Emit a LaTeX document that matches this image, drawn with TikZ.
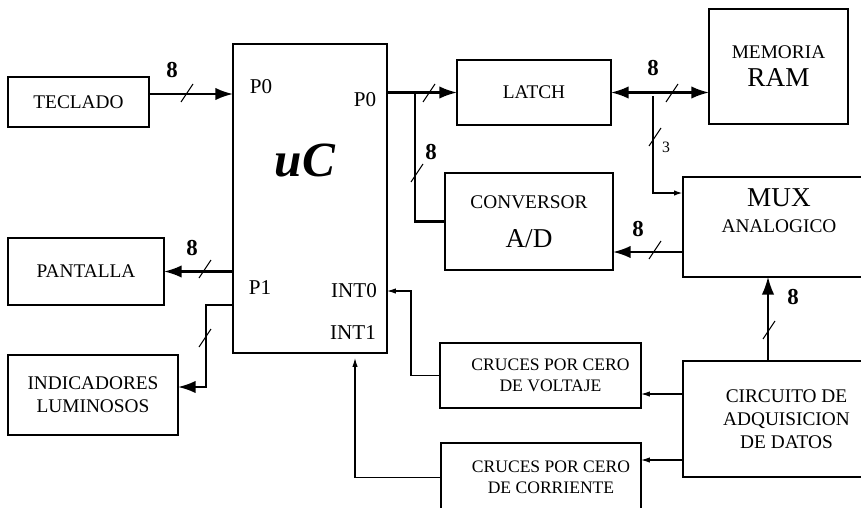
\documentclass[tikz,border=0pt]{standalone}
\usepackage{fontspec}
\setmainfont{Liberation Serif}
\usetikzlibrary{positioning,arrows.meta,calc}

% short slash across a bus line
\newcommand{\busmark}[1]{\draw[busslash] ($(#1)+(-6,9)$) -- ($(#1)+(6,-9)$);}

\begin{document}
\begin{tikzpicture}[>=Latex, x=0.02cm, y=-0.02cm,
  blk/.style={draw, line width=0.8pt, inner sep=0pt, outer sep=0pt, align=center,
              font=\fontsize{11}{13}\selectfont},
  bus/.style={line width=1.2pt},
  sig/.style={line width=0.6pt},
  bigarr/.style={-{Latex[length=10pt,width=7pt]}},
  smallarr/.style={-{Latex[length=5pt,width=3pt]}},
  num/.style={font=\bfseries\fontsize{13}{15}\selectfont},
  port/.style={font=\fontsize{12}{14}\selectfont},
  busslash/.style={line width=0.6pt}]
  \useasboundingbox (0,0) rectangle (861,507);

  % blocks
  \node (teclado) [blk, minimum width=2.82cm, minimum height=1.00cm] at (78.5,102) {TECLADO};
  \node (uc) [blk, minimum width=3.08cm, minimum height=6.18cm] at (310,198.5) {};
  \node (latch) [blk, minimum width=3.08cm, minimum height=1.30cm] at (534,92.5) {LATCH};
  \node (ram) [blk, minimum width=2.78cm, minimum height=2.30cm] at (778.5,66.5)
    {MEMORIA\\[3pt]{\fontsize{15.5}{17}\selectfont RAM}};
  \node (conv) [blk, minimum width=3.36cm, minimum height=1.94cm] at (529,221.5)
    {CONVERSOR\\[9pt]{\fontsize{15.5}{17}\selectfont A/D}};
  \node (mux) [blk, minimum width=3.84cm, minimum height=2.00cm] at (779,227)
    {{\fontsize{15.5}{17}\selectfont MUX}\\[2pt]ANALOGICO\\[6pt]};
  \node (pantalla) [blk, minimum width=3.12cm, minimum height=1.34cm] at (86,271.5) {PANTALLA};
  \node (ind) [blk, minimum width=3.40cm, minimum height=1.60cm] at (93,395)
    {INDICADORES\\LUMINOSOS};
  \node (volt) [blk, minimum width=4.02cm, minimum height=1.30cm,
                font=\fontsize{10}{12}\selectfont] at (540.5,375.5)
    {\hspace{0.4cm}CRUCES POR CERO\\\hspace{0.4cm}DE VOLTAJE};
  \node (corr) [blk, minimum width=4.00cm, minimum height=1.38cm,
                font=\fontsize{10}{12}\selectfont] at (541,477.5)
    {\hspace{0.4cm}CRUCES POR CERO\\\hspace{0.4cm}DE CORRIENTE};
  \node (circ) [blk, minimum width=3.84cm, minimum height=2.32cm] at (779,419)
    {\hspace{0.3cm}CIRCUITO DE\\\hspace{0.3cm}ADQUISICION\\\hspace{0.3cm}DE DATOS};

  % text inside the micro
  \node (uclbl) [font=\bfseries\itshape\fontsize{28}{30}\selectfont] at (305,160) {uC};
  \node (p0a) [port] at (261,87) {P0};
  \node (p0b) [port] at (365,100) {P0};
  \node (p1) [port] at (260,288) {P1};
  \node (int0) [port] at (354,291) {INT0};
  \node (int1) [port] at (353,333) {INT1};

  % buses
  \draw[bus,bigarr] (teclado.east |- 0,94) -- (uc.west |- 0,94);
  \draw[bus,bigarr] (uc.east |- latch.west) -- (latch.west);
  \coordinate (br1) at (415,92.5);
  \draw[bus] (br1) |- (conv.west);
  \draw[bus,{Latex[length=10pt,width=7pt]}-{Latex[length=10pt,width=7pt]}]
    (latch.east) -- (ram.west |- latch.east);
  \coordinate (br2) at (653,96);
  \draw[bus,smallarr] (br2) |- (mux.west |- 0,193);
  \draw[bus,bigarr] (mux.west |- 0,252) -- (conv.east |- 0,252);
  \draw[bus,bigarr] (uc.west |- pantalla.east) -- (pantalla.east);
  \draw[bus,bigarr] (uc.west |- 0,305) -| (206,387) -- (ind.east |- 0,387);
  \draw[line width=0.8pt,bigarr] (circ.north -| 768,0) -- (mux.south -| 768,0);

  % interrupt and zero-crossing lines
  \draw[sig,smallarr] (volt.west) -| (411,291) -- (uc.east |- 0,291);
  \draw[sig,smallarr] (corr.west) -| (355,358);
  \draw[sig,smallarr] (circ.west |- 0,394) -- (volt.east |- 0,394);
  \draw[sig,smallarr] (circ.west |- 0,460) -- (corr.east |- 0,460);

  % bus widths
  \busmark{187,93}
  \busmark{429,93}
  \busmark{417,173}
  \busmark{672,93}
  \busmark{655,137}
  \busmark{655,250}
  \busmark{205,269}
  \busmark{205,338}
  \busmark{769,330}
  \node (w1) [num] at (172,70) {8};
  \node (w2) [num] at (431,152) {8};
  \node (w3) [num] at (653,68) {8};
  \node (w4) [font=\fontsize{9}{11}\selectfont] at (666,147) {3};
  \node (w5) [num] at (638,229) {8};
  \node (w6) [num] at (192,248) {8};
  \node (w7) [num] at (793,297) {8};
\end{tikzpicture}
\end{document}
